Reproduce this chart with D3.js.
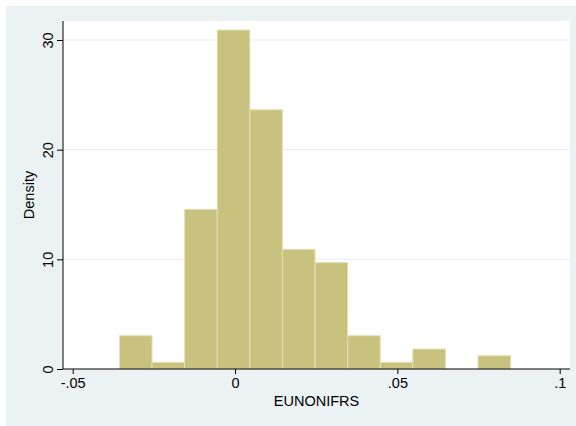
<!DOCTYPE html>
<html>
<head>
<meta charset="utf-8">
<script src="https://cdn.jsdelivr.net/npm/d3@7"></script>
<style>
  html, body { margin: 0; padding: 0; background: #ffffff; }
  svg { display: block; }
  text { font-family: "Liberation Sans", Arial, sans-serif; fill: #000; }
</style>
</head>
<body>
<svg id="chart" width="576" height="426"></svg>
<script>
// Histogram of EUNONIFRS (density scale)
const binStart = -0.0356;
const binWidth = 0.01004;
const densities = [3.03, 0.61, 14.55, 30.91, 23.64, 10.91, 9.70, 3.03, 0.61, 1.82, 0, 1.21];

const xTicks = [-0.05, 0, 0.05, 0.1];
const xTickLabels = ["-.05", "0", ".05", ".1"];
const yTicks = [0, 10, 20, 30];
const yTickLabels = ["0", "10", "20", "30"];
const xTitle = "EUNONIFRS";
const yTitle = "Density";

const bins = densities.map((d, i) => ({
  x0: binStart + i * binWidth,
  x1: binStart + (i + 1) * binWidth,
  density: d
}));

const svg = d3.select("#chart");
const W = 576, H = 426;

// graph region and plot region
const plot = { left: 63, right: 570, top: 21, bottom: 369 };

svg.append("rect")
  .attr("x", 6).attr("y", 6)
  .attr("width", W - 6).attr("height", H - 6)
  .attr("fill", "#eaf2f3");

svg.append("rect")
  .attr("x", plot.left).attr("y", plot.top)
  .attr("width", plot.right - plot.left).attr("height", plot.bottom - plot.top)
  .attr("fill", "#ffffff");

const x = d3.scaleLinear().domain([-0.05, 0.1]).range([72.7, 559.7]);
const y = d3.scaleLinear().domain([0, 30]).range([369, 40]);

// horizontal grid lines
svg.append("g")
  .selectAll("line")
  .data(yTicks.filter(t => t > 0))
  .join("line")
  .attr("x1", plot.left).attr("x2", plot.right)
  .attr("y1", d => y(d)).attr("y2", d => y(d))
  .attr("stroke", "#e3edf0")
  .attr("stroke-width", 1);

// bars
svg.append("g")
  .selectAll("rect")
  .data(bins.filter(b => b.density > 0))
  .join("rect")
  .attr("x", d => x(d.x0))
  .attr("y", d => y(d.density))
  .attr("width", d => x(d.x1) - x(d.x0))
  .attr("height", d => y(0) - y(d.density))
  .attr("fill", "#c9c27e")
  .attr("stroke", "#e3dfb6")
  .attr("stroke-width", 1);

// x axis
const xAxis = d3.axisBottom(x)
  .tickValues(xTicks)
  .tickFormat((d, i) => xTickLabels[i])
  .tickSize(5)
  .tickPadding(4);

const gx = svg.append("g")
  .attr("transform", `translate(0,${plot.bottom})`)
  .call(xAxis);
gx.select(".domain").remove();
gx.append("line")
  .attr("x1", plot.left).attr("x2", plot.right)
  .attr("y1", 0).attr("y2", 0)
  .attr("stroke", "#000");
gx.selectAll(".tick line").attr("stroke", "#000");
gx.selectAll(".tick text")
  .attr("font-size", 14.5)
  .attr("font-family", "Liberation Sans, Arial, sans-serif")
  .attr("fill", "#000");

// y axis
const yAxis = d3.axisLeft(y)
  .tickValues(yTicks)
  .tickFormat((d, i) => yTickLabels[i])
  .tickSize(6);

const gy = svg.append("g")
  .attr("transform", `translate(${plot.left},0)`)
  .call(yAxis);
gy.select(".domain").remove();
gy.append("line")
  .attr("x1", 0).attr("x2", 0)
  .attr("y1", plot.top).attr("y2", plot.bottom)
  .attr("stroke", "#000");
gy.selectAll(".tick line").attr("stroke", "#000");
gy.selectAll(".tick text")
  .attr("font-size", 14.5)
  .attr("font-family", "Liberation Sans, Arial, sans-serif")
  .attr("fill", "#000")
  .attr("text-anchor", "middle")
  .attr("dy", 0)
  .attr("x", 0)
  .attr("transform", "translate(-10.5,0) rotate(-90)");

// axis titles
svg.append("text")
  .attr("x", (plot.left + plot.right) / 2)
  .attr("y", 406)
  .attr("text-anchor", "middle")
  .attr("font-size", 14.5)
  .text(xTitle);

svg.append("text")
  .attr("transform", `translate(34,${(plot.top + plot.bottom) / 2}) rotate(-90)`)
  .attr("text-anchor", "middle")
  .attr("font-size", 14.5)
  .text(yTitle);
</script>
</body>
</html>
